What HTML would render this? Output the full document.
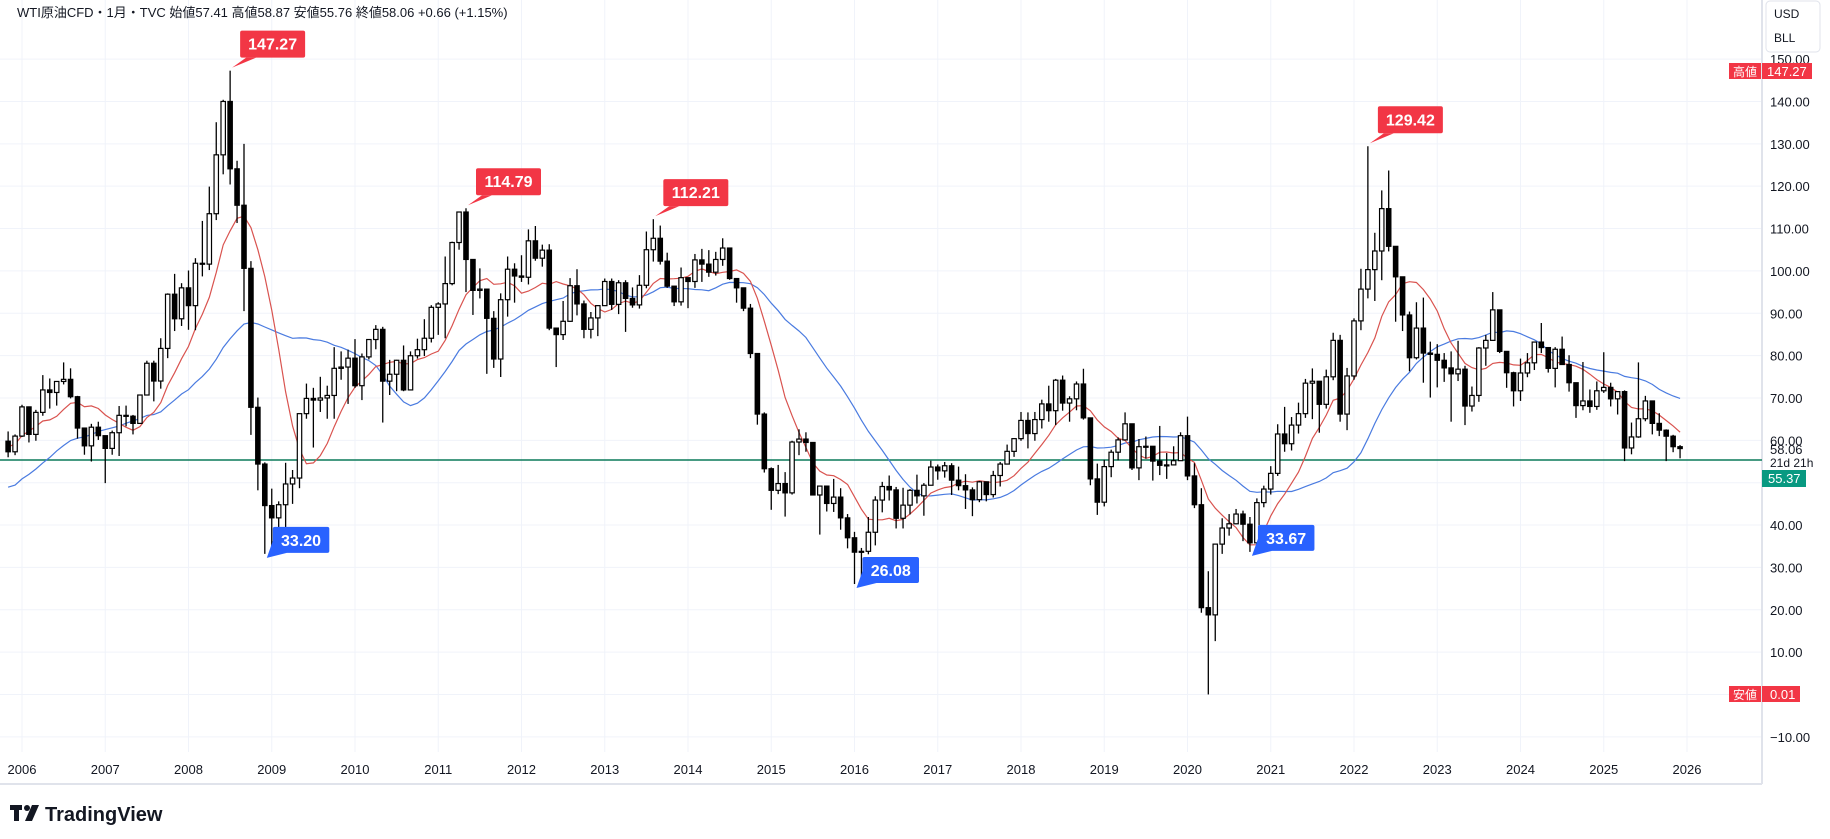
<!DOCTYPE html>
<html><head><meta charset="utf-8"><style>
body{margin:0;background:#fff;width:1830px;height:839px;overflow:hidden;font-family:"Liberation Sans","Noto Sans CJK JP",sans-serif}
svg{display:block}
</style></head><body>
<svg id="c" width="1830" height="839" xmlns="http://www.w3.org/2000/svg"></svg>
<script>
const startYear=2005, startMonth=10; // Nov 2005 (0-based month)
const prevCloses=[33.0,36.2,35.8,37.4,39.9,37.1,43.8,42.1,49.6,51.8,49.1,43.5,48.2,51.8,55.4,49.7,51.97,56.5,60.6,68.9,66.2,59.8];
const closes=[57.3,61.0,
67.9,61.4,66.6,71.9,71.3,73.9,74.4,70.3,62.9,58.7,63.1,61.1,
58.1,61.8,65.9,65.7,64.0,70.7,78.2,74.0,81.7,94.5,88.7,96.0,
91.8,101.8,101.6,113.5,127.4,140.0,124.1,115.5,100.6,67.8,54.4,44.6,
41.7,44.8,49.7,51.1,66.3,69.9,69.5,70.0,70.6,77.0,77.3,79.4,
72.9,79.7,83.8,86.2,73.97,75.6,78.9,71.9,79.97,81.4,84.1,91.4,
92.2,97.0,106.7,113.9,102.7,95.4,95.7,88.8,79.2,93.2,100.4,98.8,
98.5,107.1,103.0,104.9,86.5,84.96,88.1,96.5,92.2,86.2,88.9,91.8,
97.5,92.1,97.2,93.5,91.97,96.6,105.0,107.7,102.3,96.4,92.7,98.4,
97.5,102.6,101.6,99.7,102.7,105.4,98.2,96.0,91.2,80.5,66.2,53.3,
48.2,49.8,47.6,59.6,60.3,59.5,47.1,49.2,45.1,46.6,41.7,37.0,
33.6,33.8,38.3,45.9,49.1,48.3,41.6,44.7,48.2,46.9,49.4,53.7,
52.8,54.0,50.6,49.3,48.3,46.0,50.2,47.2,51.7,54.4,57.4,60.4,
64.7,61.6,64.9,68.6,67.0,74.2,68.8,69.8,73.3,65.3,50.9,45.4,
53.8,57.2,60.1,63.9,53.5,58.5,58.6,55.1,54.1,54.2,55.2,61.1,
51.6,44.8,20.5,18.8,35.5,39.3,40.3,42.6,40.2,35.8,45.3,48.5,
52.2,61.5,59.2,63.6,66.3,73.5,73.95,68.5,75.0,83.6,66.2,75.2,
88.2,95.7,100.3,104.7,114.7,105.8,98.6,89.6,79.5,86.5,80.6,80.3,
78.9,77.1,75.7,76.8,68.1,70.6,81.8,83.6,90.8,81.0,75.96,71.7,
75.9,78.3,83.2,81.9,76.99,81.5,77.9,73.6,68.2,69.3,68.0,71.7,
72.5,69.8,71.5,58.2,60.8,65.1,69.3,64.0,62.4,60.98,58.5,58.06];
const highs=[62.1,61.4,
68.4,68.0,67.2,75.4,74.6,74.0,78.4,77.0,70.5,63.0,63.9,64.4,
61.1,62.3,68.1,68.2,66.0,70.7,78.8,78.8,84.1,94.7,99.3,97.1,
100.1,103.0,111.8,119.9,135.1,140.4,147.27,126.0,130.0,102.3,70.1,54.8,
48.6,45.6,54.7,53.0,66.3,73.4,72.4,75.0,72.9,82.0,81.0,81.4,
83.9,80.5,83.9,87.2,86.8,79.0,79.0,82.4,81.0,84.0,88.6,91.9,
92.6,103.4,106.9,113.9,114.79,102.4,100.6,94.0,90.5,94.7,103.4,101.8,
103.7,109.8,110.6,106.2,106.3,85.5,92.9,98.3,100.4,93.0,90.3,91.9,
98.2,98.2,97.8,97.8,96.1,99.0,109.3,112.21,110.7,104.3,95.5,100.8,
98.3,104.0,105.2,104.9,104.5,107.7,105.4,98.3,95.9,92.2,80.6,66.6,
53.6,54.2,52.5,59.9,62.6,61.9,59.0,49.3,48.4,50.9,48.7,42.6,
38.4,34.6,41.9,46.8,50.2,51.7,49.0,48.8,48.5,51.9,49.9,55.2,
54.3,54.9,54.6,53.8,52.0,48.9,50.4,50.2,52.8,54.9,59.0,60.5,
66.7,66.6,66.7,69.6,72.9,74.5,75.3,70.4,73.9,76.9,65.0,54.5,
55.4,57.8,60.7,66.6,63.9,60.3,60.9,57.5,63.4,57.0,58.6,61.9,
65.6,54.6,48.7,29.1,35.5,41.6,42.6,43.8,43.4,41.9,46.3,49.3,
53.9,63.8,67.9,65.5,68.9,74.5,76.98,71.0,76.7,85.4,84.9,77.1,
88.8,100.5,129.42,109.0,119.0,123.7,105.6,97.7,90.4,92.6,93.7,83.3,
82.7,80.6,81.0,83.5,77.6,72.7,82.0,84.9,95.0,90.8,80.1,76.2,
79.3,80.6,83.3,87.7,81.5,82.0,84.5,80.1,72.4,78.5,72.0,73.9,
80.8,73.6,71.5,71.8,64.2,78.4,70.5,68.3,66.4,62.6,61.3,58.87];
const lows=[56.0,56.5,
60.8,59.5,59.9,65.8,67.5,68.2,73.2,69.9,60.4,56.6,55.0,60.1,
49.9,56.6,56.3,63.3,61.4,64.5,70.6,69.2,72.2,79.4,85.8,87.0,
86.1,86.0,98.7,100.2,112.0,122.8,120.4,111.3,90.5,61.3,48.2,33.20,
33.55,33.98,37.0,45.0,48.7,65.1,58.3,66.7,65.1,65.1,74.3,68.6,
72.4,69.5,79.1,81.5,64.2,70.7,71.6,71.6,72.6,79.3,79.9,83.1,
84.9,84.1,96.6,105.0,95.0,89.6,93.5,75.7,77.1,74.95,89.2,92.5,
97.4,96.8,102.4,101.0,86.0,77.3,83.7,88.0,89.5,84.1,84.05,84.6,
91.9,90.8,89.8,85.6,91.3,91.1,95.9,102.2,101.5,96.0,91.7,91.8,
91.2,96.0,97.4,98.6,98.9,101.2,97.9,92.5,90.5,79.4,63.7,52.4,
43.6,47.3,42.0,47.2,56.5,57.3,47.0,37.75,43.2,43.1,38.9,34.5,
26.08,26.1,33.1,35.2,43.0,45.8,39.2,39.2,42.5,45.1,42.2,49.9,
50.7,51.2,47.1,48.2,43.8,42.1,45.4,45.6,46.5,49.1,54.3,56.1,
59.9,58.1,59.9,62.8,64.4,63.6,67.0,64.4,67.1,64.9,49.4,42.4,
44.4,51.3,55.3,60.0,53.0,50.6,55.7,50.5,51.8,50.9,55.0,55.4,
50.6,44.0,19.3,0.01,12.6,33.2,37.5,40.2,36.2,33.67,34.0,44.2,
47.2,51.6,57.3,57.6,61.6,65.3,65.0,61.8,67.5,74.2,64.4,62.4,
74.3,86.0,93.5,92.9,97.8,104.6,88.0,85.8,76.3,79.1,73.6,70.1,
72.5,73.8,64.4,74.0,63.6,66.8,69.1,77.6,83.5,80.6,72.4,68.0,
69.3,74.9,76.6,80.6,76.0,72.5,77.8,71.5,65.3,67.1,66.5,67.2,
71.2,68.0,66.1,55.1,56.7,60.6,64.5,61.4,61.0,55.1,57.2,55.76];
const firstOpen=59.8;
const priceTicks=[150,140,130,120,110,100,90,80,70,60,40,30,20,10,-10];
const yearTicks=[2006,2007,2008,2009,2010,2011,2012,2013,2014,2015,2016,2017,2018,2019,2020,2021,2022,2023,2024,2025,2026];
const highLabels=[147.27,114.79,112.21,129.42];
const lowLabels=[33.20,26.08,33.67];
const lastClose=58.06, refPrice=55.37;

const NS="http://www.w3.org/2000/svg";
const svg=document.getElementById('c');
const PR=1762;
function y(v){return 694.5-4.236*v;}
function xm(m){return 22+m*83.25/12;} // m months since Jan 2006
function xi(i){return xm(i+(startYear-2006)*12+startMonth);}
function mk(tag,attrs,parent){const e=document.createElementNS(NS,tag);for(const k in attrs)e.setAttribute(k,attrs[k]);(parent||svg).appendChild(e);return e;}

// grid
const grid=mk('g',{});


for(let v=-10;v<=150;v+=10){mk('line',{x1:0,x2:PR,y1:y(v),y2:y(v),stroke:'#f0f3fa','stroke-width':1},grid);}
yearTicks.forEach(t=>{mk('line',{x1:xm((t-2006)*12),x2:xm((t-2006)*12),y1:0,y2:752,stroke:'#f0f3fa','stroke-width':1},grid);});
mk('line',{x1:0,x2:PR,y1:784,y2:784,stroke:'#e0e3eb','stroke-width':2},grid);
mk('line',{x1:PR,x2:PR,y1:0,y2:784,stroke:'#e0e3eb','stroke-width':2},grid);

// ref line
const rl=mk('line',{x1:0,x2:PR,y1:y(refPrice),y2:y(refPrice),stroke:'#0b7a5a','stroke-width':1.5});



// MAs
const all=prevCloses.concat(closes);
function ma(n,color,name){let d='';for(let i=0;i<closes.length;i++){const k=i+prevCloses.length;const s=all.slice(Math.max(0,k-n+1),k+1);const a=s.reduce((p,q)=>p+q,0)/s.length;d+=(i?'L':'M')+xi(i).toFixed(1)+','+y(a).toFixed(1);}
const p=mk('path',{d:d,fill:'none',stroke:color,'stroke-width':1.2});

}
ma(24,'#4a7be0','ma-long');
ma(9,'#d9534f','ma-short');

// candles
const cg=mk('g',{});


for(let i=0;i<closes.length;i++){
 const o=i?closes[i-1]:firstOpen,c=closes[i],x=xi(i);
 mk('line',{x1:x,x2:x,y1:y(highs[i]),y2:y(lows[i]),stroke:'#000','stroke-width':1.3},cg);
 const top=y(Math.max(o,c)),h=Math.max(1,y(Math.min(o,c))-top);
 const r=mk('rect',{x:x-2.2,y:top,width:4.4,height:h,fill:c>=o?'#fff':'#000',stroke:'#000','stroke-width':1.2},cg);
 
 
}

// callouts
function callout(val,isHigh){
 let idx=-1;for(let i=0;i<closes.length;i++){if((isHigh?highs[i]:lows[i])===val){idx=i;break;}}
 const x=xi(idx),py=y(val);const txt=val.toFixed(2);const w=txt.length*8.5+14;
 const g=mk('g',{});
 
 
 const col=isHigh?'#f23645':'#2962ff';
 if(isHigh){const bx=x+10,by=py-40;mk('rect',{x:bx,y:by,width:w,height:27,rx:2,fill:col},g);
  mk('path',{d:`M${bx+6},${by+27}L${x+2},${py-3}L${bx+16},${by+27}Z`,fill:col},g);
  const t=mk('text',{x:bx+w/2,y:by+19,'text-anchor':'middle',fill:'#fff','font-size':16,'font-weight':'bold'},g);t.textContent=txt;}
 else{const bx=x+8,by=py-27;mk('rect',{x:bx,y:by,width:w,height:26,rx:2,fill:col},g);
  mk('path',{d:`M${bx},${by+14}L${x+2},${py+4}L${bx+14},${by+26}Z`,fill:col},g);
  const t=mk('text',{x:bx+w/2,y:by+19,'text-anchor':'middle',fill:'#fff','font-size':16,'font-weight':'bold'},g);t.textContent=txt;}
}
highLabels.forEach(v=>callout(v,true));
lowLabels.forEach(v=>callout(v,false));

// price axis
priceTicks.forEach(v=>{const t=mk('text',{x:1770,y:y(v)+5,fill:'#131722','font-size':13});t.textContent=v.toFixed(2).replace('-','−');
 
 });
yearTicks.forEach(t=>{const e=mk('text',{x:xm((t-2006)*12),y:774,'text-anchor':'middle',fill:'#131722','font-size':13});e.textContent=t;
 
 });
</script>
<svg width="1830" height="839" style="position:absolute;left:0;top:0;pointer-events:none" xmlns="http://www.w3.org/2000/svg">
 <text x="17" y="17" font-size="13" fill="#131722" font-family="Liberation Sans, Noto Sans CJK JP, sans-serif">WTI原油CFD・1月・TVC  始値57.41  高値58.87  安値55.76  終値58.06  +0.66 (+1.15%)</text>
 <g><rect x="1766" y="1" width="54" height="51" rx="4" fill="#fff" stroke="#e0e3eb"/>
 <text x="1774" y="18" font-size="12" fill="#131722">USD</text><text x="1774" y="42" font-size="12" fill="#131722">BLL</text></g>
 <g><rect x="1729" y="63" width="32" height="16" fill="#f23645"/><rect x="1762" y="63" width="50" height="16" fill="#f23645"/>
 <text x="1733" y="76" font-size="12" fill="#fff" font-family="Liberation Sans, Noto Sans CJK JP, sans-serif">高値</text><text x="1767" y="76" font-size="13" fill="#fff">147.27</text></g>
 <g><rect x="1729" y="686" width="32" height="16" fill="#f23645"/><rect x="1762" y="686" width="38" height="16" fill="#f23645"/>
 <text x="1733" y="699" font-size="12" fill="#fff" font-family="Liberation Sans, Noto Sans CJK JP, sans-serif">安値</text><text x="1770" y="699" font-size="13" fill="#fff">0.01</text></g>
 <text x="1770" y="454" font-size="13" fill="#131722">58.06</text>
 <text x="1770" y="467" font-size="12" fill="#131722">21d 21h</text>
 <g><rect x="1762" y="470" width="44" height="17" fill="#089981"/><text x="1768" y="483" font-size="13" fill="#fff">55.37</text></g>
 <g><text x="10" y="822" font-size="21" font-weight="bold" fill="#131722">𝗧𝗩</text>
 <rect x="10" y="805" width="12" height="5" fill="#131722"/><rect x="14" y="805" width="5" height="16" fill="#131722"/><circle cx="27" cy="808" r="3" fill="#131722"/><path d="M31,805L38,805L31,821L25,821Z" fill="#131722"/>
 </g>
 <rect x="8" y="802" width="34" height="22" fill="#fff"/>
 <rect x="10" y="805" width="12" height="5" fill="#131722"/><rect x="14" y="805" width="5" height="16" fill="#131722"/><circle cx="27" cy="808" r="3" fill="#131722"/><path d="M32,805L39,805L32,821L25,821Z" fill="#131722"/>
 <text x="45" y="821" font-size="20" font-weight="bold" fill="#131722">TradingView</text>
</svg>
</body></html>
